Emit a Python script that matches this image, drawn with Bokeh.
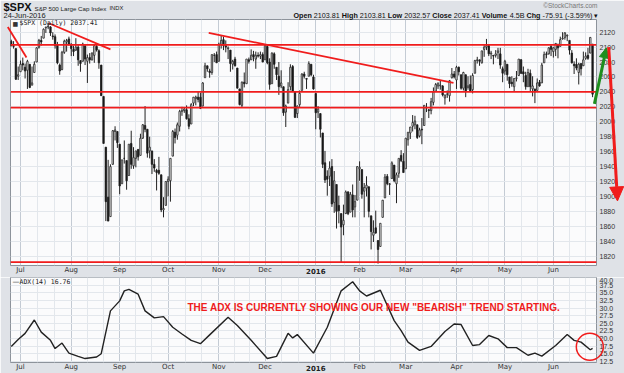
import math
from bokeh.plotting import figure
from bokeh.layouts import column
from bokeh.models import (Range1d, FixedTicker, Span, Label, Arrow, NormalHead, GridBox,
                          ColumnDataSource, NumeralTickFormatter)
from bokeh.embed import file_html
from bokeh.resources import INLINE

# ---------------- data (daily bars, 25-Jun-2015 .. 24-Jun-2016) ----------------
opens = [2108,2102,2098,2061,
 2067,2078,2073,2069,2077,2049,2066,2080,2100,2109,2112,2126,2127,2127,2115,2114,2103,2076,2070,2093,2107,2111,
 2104,2097,2096,2100,2082,2081,2102,2081,2086,2083,2089,2101,2095,2076,2034,1966,1899,1873,1943,1987,1987,
 1970,1917,1951,1948,1928,1971,1941,1951,1963,1955,1978,1995,1990,1961,1961,1943,1935,1935,1929,1882,1888,
 1920,1921,1954,1986,1982,1994,2014,2015,2016,2004,1997,2025,2031,2033,2033,2021,2059,2075,2068,2066,2089,2090,
 2081,2103,2110,2102,2098,2096,2077,2084,2072,2044,2022,2053,2051,2083,2083,2090,2084,2089,2088,2090,
 2083,2101,2080,2051,2091,2073,2061,2048,2047,2013,2025,2047,2074,2040,2011,2023,2042,2064,2058,2061,2077,2060,
 2038,2013,2011,1985,1945,1927,1927,1940,1892,1916,1888,1877,1862,1877,1906,1879,1902,1886,1895,
 1937,1936,1907,1911,1913,1874,1848,1858,1841,1833,1872,1898,1927,1916,1924,1942,1917,1931,1955,1947,
 1937,1976,1985,1994,1996,1996,1981,1990,1995,2019,2016,2015,2026,2041,2048,2048,2048,2032,2037,2035,2059,2064,
 2056,2073,2063,2045,2063,2046,2050,2043,2065,2082,2083,2079,2097,2100,2102,2091,2089,2089,2093,2091,2071,
 2068,2077,2060,2053,2047,2058,2062,2083,2067,2062,2047,2065,2044,2044,2042,2053,2052,2079,2091,2091,2101,
 2094,2097,2104,2101,2111,2113,2115,2109,2092,2077,2077,2066,2078,2075,2085,2089,2092,2104]
highs = [2110,2108,2098,2074,
 2082,2086,2078,2083,2077,2074,2081,2100,2111,2115,2125,2127,2133,2128,2120,2117,2107,2078,2095,2110,2111,2114,
 2105,2102,2112,2103,2082,2106,2102,2090,2092,2093,2103,2104,2097,2076,2034,1966,1949,1943,1989,1994,1987,
 1970,1949,1975,1948,1970,1988,1966,1961,1963,1984,1997,2021,1990,1980,1961,1950,1937,1953,1929,1899,1920,
 1927,1951,1989,1991,1999,2016,2020,2019,2022,2010,2025,2033,2035,2040,2039,2053,2079,2075,2071,2090,2092,2094,
 2106,2116,2114,2109,2101,2096,2083,2087,2072,2044,2054,2066,2084,2086,2097,2095,2094,2093,2094,2093,
 2104,2104,2085,2093,2093,2073,2080,2069,2047,2023,2053,2077,2076,2040,2022,2042,2065,2067,2058,2081,2077,2063,
 2038,2021,2011,1985,1961,1935,1947,1950,1934,1916,1901,1877,1889,1908,1907,1906,1916,1902,1940,
 1947,1936,1918,1927,1913,1874,1868,1881,1841,1864,1895,1930,1930,1918,1947,1942,1932,1951,1962,1958,
 1978,1986,1993,2009,2008,1996,1992,2005,2022,2025,2017,2032,2046,2052,2053,2056,2049,2036,2042,2056,2072,2068,
 2075,2074,2063,2067,2063,2061,2062,2065,2083,2087,2083,2095,2104,2111,2103,2095,2089,2096,2099,2099,2074,
 2083,2077,2060,2061,2058,2068,2084,2084,2074,2067,2071,2070,2061,2044,2058,2056,2079,2094,2094,2100,2104,
 2100,2105,2104,2114,2120,2120,2117,2109,2096,2081,2085,2079,2078,2094,2093,2099,2113,2104]
lows = [2101,2098,2056,2056,
 2067,2069,2058,2044,2045,2049,2066,2080,2098,2102,2112,2119,2124,2115,2110,2098,2077,2063,2069,2091,2094,2102,
 2088,2088,2095,2075,2067,2081,2076,2052,2078,2082,2079,2094,2071,2035,1971,1867,1867,1873,1943,1975,1965,
 1903,1917,1944,1909,1928,1937,1937,1939,1948,1955,1977,1986,1952,1951,1930,1933,1908,1929,1879,1872,1888,
 1900,1893,1954,1971,1976,1987,2008,2012,2003,1990,1997,2021,2022,2026,2017,2021,2059,2067,2059,2063,2080,2079,
 2081,2098,2096,2093,2084,2067,2070,2074,2045,2022,2019,2046,2051,2078,2083,2081,2071,2086,2084,2080,
 2083,2077,2043,2051,2071,2056,2036,2045,2008,1993,2025,2042,2041,2005,2005,2020,2042,2058,2044,2061,2061,2043,
 1990,2005,1979,1938,1918,1901,1914,1886,1878,1857,1864,1812,1848,1877,1875,1879,1872,1872,1895,
 1921,1897,1872,1900,1872,1829,1839,1850,1810,1833,1872,1898,1915,1902,1924,1919,1891,1925,1946,1932,
 1937,1968,1977,1987,1990,1977,1979,1970,1995,2013,2005,2010,2022,2041,2044,2043,2034,2023,2032,2027,2058,2058,
 2044,2062,2043,2042,2033,2043,2041,2038,2065,2078,2075,2078,2087,2096,2088,2084,2077,2086,2084,2071,2053,
 2063,2055,2045,2047,2040,2054,2062,2064,2053,2043,2047,2041,2034,2025,2042,2047,2052,2079,2085,2090,2088,
 2086,2088,2085,2101,2110,2110,2108,2090,2078,2064,2069,2050,2062,2075,2083,2083,2092,2033]
closes = [2102,2101,2057,2063,
 2077,2076,2068,2081,2046,2052,2077,2099,2109,2107,2124,2127,2128,2119,2114,2102,2079,2068,2093,2108,2109,2104,
 2098,2094,2100,2083,2078,2104,2084,2086,2083,2092,2102,2096,2079,2035,1971,1893,1867,1940,1988,1989,1972,
 1914,1949,1951,1921,1970,1943,1952,1961,1953,1978,1996,1990,1958,1966,1943,1938,1932,1931,1882,1884,1920,
 1923,1951,1987,1979,1996,2014,2015,2017,2004,1994,2023,2033,2033,2030,2018,2052,2075,2071,2066,2090,2089,2079,
 2104,2109,2102,2100,2099,2078,2081,2075,2045,2023,2053,2051,2084,2081,2089,2087,2089,2088,2090,2080,
 2102,2079,2050,2092,2077,2063,2047,2052,2012,2021,2043,2073,2041,2006,2021,2038,2064,2061,2057,2078,2063,2044,
 2012,2017,1990,1943,1922,1923,1938,1890,1921,1880,1881,1859,1868,1906,1877,1903,1882,1893,1940,
 1939,1903,1912,1915,1880,1853,1852,1851,1829,1864,1895,1926,1917,1917,1945,1921,1929,1951,1948,1932,
 1978,1986,1993,1999,2001,1979,1989,1989,2022,2019,2015,2027,2040,2050,2051,2049,2036,2036,2037,2055,2064,2060,
 2073,2067,2045,2066,2041,2048,2041,2062,2082,2083,2081,2095,2100,2102,2091,2092,2088,2091,2095,2076,2065,
 2081,2063,2051,2051,2058,2059,2084,2065,2064,2047,2066,2047,2048,2040,2052,2048,2076,2090,2090,2099,2097,
 2099,2105,2099,2110,2112,2119,2116,2096,2079,2075,2072,2077,2071,2083,2088,2085,2113,2037]

# ADX(14) (bar index, value)
adx_x = [0, 3, 6, 10, 13, 17, 19, 22, 25, 29, 32, 37, 39, 43, 47, 49, 51, 55, 58, 62,
         66, 70, 74, 78, 82, 86, 94, 98, 104, 111, 115, 120, 122, 124, 131, 137, 143, 148, 151, 154,
         160, 166, 169, 172, 177, 182, 188, 192, 195, 200, 203, 207, 211, 215, 219, 224, 227, 230, 236, 241,
         244, 247, 251, 252]
adx_v = [17.4, 19.7, 21.7, 26.1, 22.1, 19.4, 16.7, 18.5, 15.2, 14.1, 13.4, 13.9, 15.0, 29.1, 32.4, 35.7, 36.2, 34.6, 29.1, 26.8,
         27.2, 23.7, 21.5, 19.4, 18.3, 21.2, 27.0, 24.3, 19.4, 13.4, 14.1, 21.7, 20.2, 21.3, 15.2, 23.7, 35.7, 38.7, 35.7, 34.0,
         35.9, 25.9, 22.6, 18.8, 16.1, 17.4, 22.3, 24.8, 24.6, 17.7, 18.0, 21.0, 19.9, 17.0, 17.0, 14.5, 15.2, 14.2, 17.7, 21.3,
         19.4, 18.8, 16.3, 16.76]

month_idx = [4, 26, 47, 68, 90, 110, 132, 151, 171, 193, 214, 235]
month_labels = ["Jul", "Aug", "Sep", "Oct", "Nov", "Dec", "2016", "Feb", "Mar", "Apr", "May", "Jun"]

price_ticks = list(range(1820, 2121, 20))
adx_ticks = [12.5, 15.0, 17.5, 20.0, 22.5, 25.0, 27.5, 30.0, 32.5, 35.0, 37.5, 40.0]

# user-drawn annotations (bar index, price / ADX value)
support_levels = [2103, 2040, 2019, 1812]
trend_x0 = [-1.5, 16.3, 85.6]
trend_y0 = [2127, 2132, 2119]
trend_x1 = [6.6, 43.0, 191.7]
trend_y1 = [2086, 2097, 2052]
green_arrow = (252.8, 2024, 258.0, 2099)
red_arrow = (259.0, 2100, 262.8, 1894)
circle_center = (250.8, 17.3)

header_words = ["Open", "2103.81", "High", "2103.81", "Low", "2032.57", "Close", "2037.41",
                "Volume", "4.5B", "Chg", "-75.91 (-3.59%) \u25be"]
header_bold = [True, False, True, False, True, False, True, False, True, False, True, False]
header_x = [293, 313.3, 341.3, 359.3, 387.3, 403.7, 431.7, 453.3, 481.3, 509.3, 526, 542]

# ---------------- layout geometry (canvas pixels) ----------------
W, H = 624, 373
FL, FR = 10, 596            # frame left/right for both panels
P1_TOP, P1_BOT = 19, 265     # price frame
P1_H = 277
P2_TOP, P2_BOT = 277, 362    # ADX frame
P2_H = H - P1_H
X0, X1 = -0.33, 253.7
PY0, PY1 = 1807.5, 2137.0
AY0, AY1 = 12.1, 40.1

BG = "#dfe2e7"
PLOT_BG = "#fbfbfc"
RED = "#f01c1c"
GREEN = "#1e8f1e"
SANS = "Liberation Sans"

minor = []
for a, b in zip(month_idx[:-1], month_idx[1:]):
    minor += [a + (b - a) / 3.0, a + 2 * (b - a) / 3.0]
minor += [month_idx[-1] + 7, month_idx[-1] + 14]

xr = Range1d(X0, X1)
xticker = FixedTicker(ticks=month_idx, minor_ticks=minor)


def style(p, yticks, standoff, yfmt=None):
    p.background_fill_color = PLOT_BG
    p.border_fill_color = BG
    p.outline_line_color = "#8d939b"
    p.outline_line_width = 1
    ax = p.xaxis[0]
    ax.ticker = xticker
    ax.major_label_overrides = {m: (l if l != "2016" else "") for m, l in zip(month_idx, month_labels)}
    ax.axis_line_color = None
    ax.major_tick_line_color = None
    ax.minor_tick_line_color = None
    ax.major_tick_out = 0
    ax.major_tick_in = 0
    ax.major_label_standoff = standoff
    ax.major_label_text_font = "DejaVu Sans"
    ax.major_label_text_font_size = "7px"
    ax.major_label_text_color = "#333333"
    ay = p.yaxis[0]
    ay.ticker = FixedTicker(ticks=yticks)
    if yfmt:
        ay.formatter = NumeralTickFormatter(format=yfmt)
    ay.axis_line_color = None
    ay.major_tick_line_color = None
    ay.minor_tick_line_color = None
    ay.major_tick_out = 0
    ay.major_tick_in = 0
    ay.major_label_standoff = 3
    ay.major_label_text_font = SANS
    ay.major_label_text_font_size = "7px"
    ay.major_label_text_color = "#333333"
    p.xgrid.ticker = xticker
    p.xgrid.grid_line_color = "#c4cbd4"
    p.xgrid.minor_grid_line_color = "#e3e7ec"
    p.ygrid.grid_line_color = "#e3e7ec"


# ---------------- price panel ----------------
p1 = figure(width=W, height=P1_H, output_backend="svg", toolbar_location=None,
            x_range=xr, y_range=Range1d(PY0, PY1), y_axis_location="right",
            min_border_left=FL, min_border_right=W - FR, min_border_top=P1_TOP,
            min_border_bottom=P1_H - P1_BOT)
style(p1, price_ticks, -4)

n = len(closes)
src = ColumnDataSource(dict(
    x=list(range(n)), lo=lows, hi=highs,
    top=[max(o, c) for o, c in zip(opens, closes)],
    bot=[min(o, c) for o, c in zip(opens, closes)],
    fill=["#ffffff" if c >= o else "#111111" for o, c in zip(opens, closes)],
))
p1.segment("x", "lo", "x", "hi", source=src, line_color="#222222", line_width=1)
p1.vbar(x="x", width=0.62, top="top", bottom="bot", fill_color="fill",
        line_color="#222222", line_width=0.8, source=src)
for lvl in support_levels:
    p1.add_layout(Span(location=lvl, dimension="width", line_color=RED, line_width=1.8))

# ---------------- ADX panel ----------------
p2 = figure(width=W, height=P2_H, output_backend="svg", toolbar_location=None,
            x_range=xr, y_range=Range1d(AY0, AY1), y_axis_location="right",
            min_border_left=FL, min_border_right=W - FR, min_border_top=P2_TOP - P1_H,
            min_border_bottom=H - P2_BOT)
style(p2, adx_ticks, -4, "0.0")
p2.line(adx_x, adx_v, line_color="#222222", line_width=1.4)

# ---------------- transparent overlay over the whole picture ----------------
# ranges chosen so that the overlay's scales coincide with the panels' scales
ppb = (FR - FL) / (X1 - X0)
ppp = (P1_BOT - P1_TOP) / (PY1 - PY0)
ppa = (P2_BOT - P2_TOP) / (AY1 - AY0)
ov = figure(width=W, height=H, output_backend="svg", toolbar_location=None,
            x_range=Range1d(X0 - FL / ppb, X1 + (W - FR) / ppb),
            y_range=Range1d(PY0 - (H - P1_BOT) / ppp, PY1 + P1_TOP / ppp),
            min_border=0, min_border_left=0, min_border_right=0, min_border_top=0, min_border_bottom=0)
ov.extra_y_ranges = {"adx": Range1d(AY0 - (H - P2_BOT) / ppa, AY1 + P2_TOP / ppa)}
ov.axis.visible = False
ov.grid.visible = False
ov.outline_line_color = None
ov.background_fill_alpha = 0
ov.border_fill_alpha = 0

ov.segment(trend_x0, trend_y0, trend_x1, trend_y1, line_color=RED, line_width=1.8)
gx0, gy0, gx1, gy1 = green_arrow
ov.add_layout(Arrow(x_start=gx0, y_start=gy0, x_end=gx1, y_end=gy1, line_color=GREEN, line_width=3,
                    end=NormalHead(size=10, fill_color=GREEN, line_color=GREEN)))
rx0, ry0, rx1, ry1 = red_arrow
ov.add_layout(Arrow(x_start=rx0, y_start=ry0, x_end=rx1, y_end=ry1, line_color=RED, line_width=3,
                    end=NormalHead(size=14, fill_color=RED, line_color=RED)))
ov.scatter([circle_center[0]], [circle_center[1]], y_range_name="adx", marker="circle", size=27,
           fill_color=None, line_color=RED, line_width=1.5)


def ctext(cx, cy, text, **kw):
    kw.setdefault("text_baseline", "middle")
    kw.setdefault("text_font", SANS)
    ov.add_layout(Label(x=cx, y=H - cy, x_units="screen", y_units="screen", text=text, **kw))


ctext(3, 6.5, "$SPX", text_font_size="11px", text_font_style="bold", text_color="#111111")
ctext(34, 7.5, "S&P 500 Large Cap Index", text_font_size="6.2px", text_color="#222222")
ctext(109, 7.5, "INDX", text_font_size="5.8px", text_color="#222222")
ctext(3, 14.5, "24-Jun-2016", text_font_size="7.5px", text_color="#222222")
ctext(597, 5, "\u00a9StockCharts.com", text_font_size="6.5px", text_color="#777777", text_align="right")
for w, b, hx in zip(header_words, header_bold, header_x):
    ctext(hx, 15, w, text_font_size="7.2px", text_font_style="bold" if b else "normal", text_color="#111111")
ctext(12, 22.5, "\u25a0", text_font_size="6px", text_color="#333333", text_font="DejaVu Sans")
ctext(19, 22.5, "$SPX (Daily) 2037.41", text_font_size="6.5px", text_color="#222222", text_font="DejaVu Sans Mono")
ctext(12, 281, "\u2014", text_font_size="7px", text_color="#222222", text_font="DejaVu Sans")
ctext(19, 281, "ADX(14) 16.76", text_font_size="6.5px", text_color="#222222", text_font="DejaVu Sans Mono")
ctext(187, 307, "THE ADX IS CURRENTLY SHOWING OUR NEW \"BEARISH\" TREND STARTING.",
      text_font_size="10px", text_font_style="bold", text_color=RED)
for cy in (270, 367):
    ov.add_layout(Label(x=month_idx[6], y=H - cy, y_units="screen", text="2016", text_align="center",
                        text_baseline="middle", text_font="DejaVu Sans", text_font_size="7px",
                        text_font_style="bold", text_color="#222222"))

# panels stacked; the overlay sits in the same grid cell, wrapped so frames are not aligned
layout = GridBox(children=[(column(p1, p2), 0, 0), (column(ov), 0, 0)])
open("out.html", "w").write(file_html(layout, INLINE))
